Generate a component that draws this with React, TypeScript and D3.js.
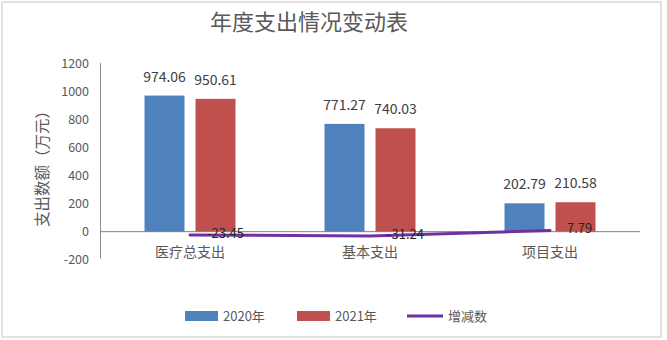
import React from "react";
import * as d3 from "d3";

const categories = ["医疗总支出", "基本支出", "项目支出"];
const values2020 = [974.06, 771.27, 202.79];
const values2021 = [950.61, 740.03, 210.58];
const changes = [-23.45, -31.24, 7.79];
const yTicks = [-200, 0, 200, 400, 600, 800, 1000, 1200];
const seriesNames = ["2020年", "2021年", "增减数"];
const title = "年度支出情况变动表";
const yTitle = "支出数额（万元）";

const W = 667;
const H = 340;
const FONT = "'Noto Sans CJK SC', 'Noto Sans', sans-serif";
const BLUE = "#4F81BD";
const RED = "#C0504D";
const PURPLE = "#7030A0";

export default function App() {
  const x = d3.scaleBand<string>().domain(categories).range([100, 640]);
  const y = d3.scaleLinear().domain([-200, 1200]).range([259.6, 64]);
  const barW = 40;
  const gap = 11;
  const cx = (c: string) => (x(c) as number) + x.bandwidth() / 2;
  const line = d3
    .line<number>()
    .x((_, i) => cx(categories[i]))
    .y((d) => y(d));

  return (
    <svg
      width={W}
      height={H}
      style={{ position: "absolute", left: 0, top: 0, background: "#fff" }}
      fontFamily={FONT}
    >
      <rect x={2} y={2} width={659} height={335} fill="#fff" stroke="#d9d9d9" strokeWidth={1.5} />
      <text x={309} y={30} textAnchor="middle" fontSize={22} fill="#595959">
        {title}
      </text>
      <text
        transform={`translate(48,165) rotate(-90)`}
        textAnchor="middle"
        fontSize={15.5}
        fill="#595959"
      >
        {yTitle}
      </text>
      {yTicks.map((t) => (
        <text key={t} x={89} y={y(t)} dy="0.35em" textAnchor="end" fontSize={12.5} fill="#595959">
          {t}
        </text>
      ))}
      <line x1={100.5} x2={100.5} y1={y(1200) - 1} y2={y(-200) - 1} stroke="#8c8c8c" strokeWidth={1} />
      {categories.map((c, i) => {
        const c0 = cx(c);
        const bx1 = c0 - gap / 2 - barW;
        const bx2 = c0 + gap / 2;
        return (
          <g key={c}>
            <rect x={bx1} y={y(values2020[i])} width={barW} height={y(0) - y(values2020[i])} fill={BLUE} />
            <rect x={bx2} y={y(values2021[i])} width={barW} height={y(0) - y(values2021[i])} fill={RED} />
            <text x={bx1 + barW / 2} y={y(values2020[i]) - 14} textAnchor="middle" fontSize={14} fill="#404040">
              {values2020[i].toFixed(2)}
            </text>
            <text x={bx2 + barW / 2} y={y(values2021[i]) - 14} textAnchor="middle" fontSize={14} fill="#404040">
              {values2021[i].toFixed(2)}
            </text>
          </g>
        );
      })}
      <line x1={100} x2={640} y1={y(0)} y2={y(0)} stroke="#7f7f7f" strokeWidth={1} />
      {categories.map((c) => (
        <text key={c} x={cx(c)} y={y(0) + 20} dy="0.35em" textAnchor="middle" fontSize={14} fill="#595959">
          {c}
        </text>
      ))}
      <path d={line(changes) || ""} fill="none" stroke={PURPLE} strokeWidth={3} strokeLinecap="round" />
      {changes.map((v, i) => (
        <text key={i} x={cx(categories[i]) + 17} y={y(v) - 1} dy="0.3em" fontSize={13} fill="#262626">
          {v.toFixed(2)}
        </text>
      ))}
      <g fontSize={13} fill="#595959">
        <rect x={185} y={311} width={33} height={10} fill={BLUE} />
        <text x={223} y={316} dy="0.35em">{seriesNames[0]}</text>
        <rect x={297} y={311} width={33} height={10} fill={RED} />
        <text x={335} y={316} dy="0.35em">{seriesNames[1]}</text>
        <line x1={407} x2={443} y1={316} y2={316} stroke={PURPLE} strokeWidth={3} />
        <text x={448} y={316} dy="0.35em">{seriesNames[2]}</text>
      </g>
    </svg>
  );
}
